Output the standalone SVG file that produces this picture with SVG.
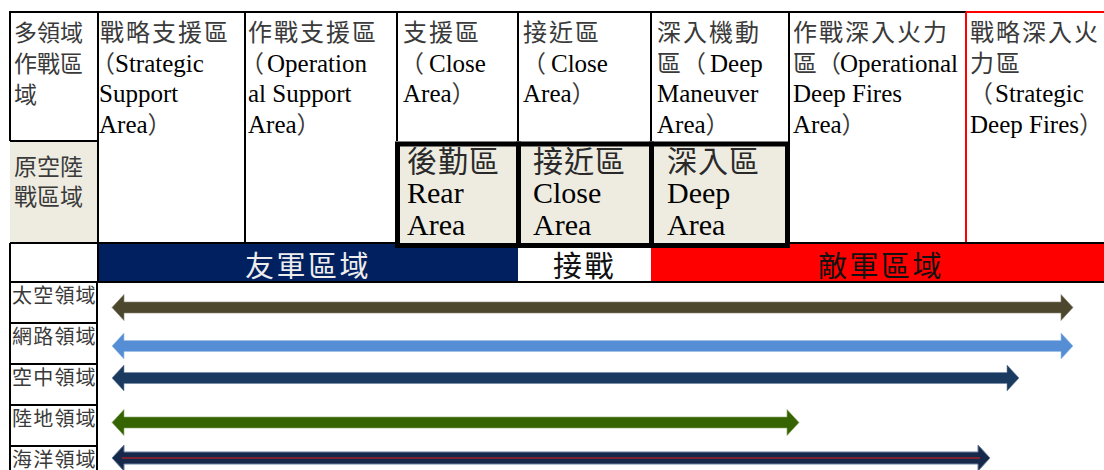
<svg xmlns="http://www.w3.org/2000/svg" width="1104" height="470" viewBox="0 0 1104 470">
<style>
text { font-family: "Liberation Serif", "Noto Sans CJK TC", serif; }
.h { font-size: 24px; fill: #3a3a3a; letter-spacing: 2px; }
.h1 { font-size: 23px; fill: #3a3a3a; }
.en { font-size: 25px; fill: #000; letter-spacing: 0; }
.bx { font-size: 30px; fill: #2a2a2a; letter-spacing: 1px; }
.bxe { font-size: 30px; fill: #000; letter-spacing: 0; }
.band { font-size: 29px; letter-spacing: 2.5px; }
.dom { font-size: 20px; fill: #3a3a3a; letter-spacing: 1.2px; }
.ln { stroke: #000; stroke-width: 2; fill: none; }
.rl { stroke: #f00; stroke-width: 2; fill: none; }
.thick { fill: #EEECE1; stroke: #000; stroke-width: 5; }
</style>

<!-- fills -->
<g id="fills">
  <rect x="10" y="141" width="88" height="102" fill="#EEECE1"/>
  <rect x="98" y="243" width="420" height="39" fill="#002060"/>
  <rect x="651" y="243" width="453" height="39" fill="#FF0000"/>
</g>

<!-- grid -->
<g id="grid">
  <line class="ln" x1="10" y1="12" x2="966" y2="12"/>
  <line class="rl" x1="966" y1="12" x2="1104" y2="12"/>
  <line class="ln" x1="10" y1="11" x2="10" y2="141"/>
  <line class="ln" x1="10" y1="243" x2="10" y2="470"/>
  <line class="ln" x1="98" y1="12" x2="98" y2="282"/>
  <line class="ln" x1="97" y1="282" x2="97" y2="470"/>
  <line class="ln" x1="245" y1="12" x2="245" y2="243"/>
  <line class="ln" x1="397" y1="12" x2="397" y2="141"/>
  <line class="ln" x1="518" y1="12" x2="518" y2="141"/>
  <line class="ln" x1="651" y1="12" x2="651" y2="141"/>
  <line class="ln" x1="789" y1="12" x2="789" y2="243"/>
  <line class="rl" x1="966" y1="12" x2="966" y2="243"/>
  <line class="ln" x1="10" y1="141" x2="98" y2="141"/>
  <line class="ln" x1="10" y1="243" x2="1104" y2="243"/>
  <line class="ln" x1="10" y1="282" x2="1104" y2="282"/>
  <line class="ln" x1="10" y1="323" x2="97" y2="323"/>
  <line class="ln" x1="10" y1="364" x2="97" y2="364"/>
  <line class="ln" x1="10" y1="405" x2="97" y2="405"/>
  <line class="ln" x1="10" y1="446" x2="97" y2="446"/>
</g>

<!-- header cells -->
<g id="cell-mdo">
  <text class="h1" x="14" y="41">多領域</text>
  <text class="h1" x="14" y="72">作戰區</text>
  <text class="h1" x="14" y="103">域</text>
</g>
<g id="cell-strategic-support">
  <text class="h" x="100" y="41">戰略支援區</text>
  <text class="h" y="72"><tspan x="91">（</tspan><tspan class="en" x="115">Strategic</tspan></text>
  <text class="en" x="99" y="102">Support</text>
  <text class="en" x="99" y="133">Area<tspan class="h">）</tspan></text>
</g>
<g id="cell-operational-support">
  <text class="h" x="248" y="41">作戰支援區</text>
  <text class="h" y="72"><tspan x="240">（</tspan><tspan class="en" x="267">Operation</tspan></text>
  <text class="en" x="248" y="102">al Support</text>
  <text class="en" x="248" y="133">Area<tspan class="h">）</tspan></text>
</g>
<g id="cell-close-support">
  <text class="h" x="403" y="41">支援區</text>
  <text class="h" y="72"><tspan x="400">（</tspan><tspan class="en" x="429">Close</tspan></text>
  <text class="en" x="403" y="102">Area<tspan class="h">）</tspan></text>
</g>
<g id="cell-close">
  <text class="h" x="523" y="41">接近區</text>
  <text class="h" y="72"><tspan x="522">（</tspan><tspan class="en" x="551">Close</tspan></text>
  <text class="en" x="523" y="102">Area<tspan class="h">）</tspan></text>
</g>
<g id="cell-deep-maneuver">
  <text class="h" x="657" y="41">深入機動</text>
  <text class="h" y="72"><tspan x="657">區</tspan><tspan x="682">（</tspan><tspan class="en" x="710">Deep</tspan></text>
  <text class="en" x="657" y="102">Maneuver</text>
  <text class="en" x="657" y="133">Area<tspan class="h">）</tspan></text>
</g>
<g id="cell-operational-deep-fires">
  <text class="h" x="793" y="41">作戰深入火力</text>
  <text class="h" y="72"><tspan x="793" style="letter-spacing:0">區</tspan><tspan x="817" style="letter-spacing:0">（</tspan><tspan class="en" x="840">Operational</tspan></text>
  <text class="en" x="793" y="102">Deep Fires</text>
  <text class="en" x="793" y="133">Area<tspan class="h">）</tspan></text>
</g>
<g id="cell-strategic-deep-fires">
  <text class="h" x="970" y="41">戰略深入火</text>
  <text class="h" x="970" y="72">力區</text>
  <text class="h" y="102"><tspan x="969">（</tspan><tspan class="en" x="995">Strategic</tspan></text>
  <text class="en" x="970" y="133">Deep Fires<tspan class="h">）</tspan></text>
</g>

<g id="cell-aln">
  <text class="h1" x="14" y="175">原空陸</text>
  <text class="h1" x="14" y="205">戰區域</text>
</g>

<g id="box-rear">
  <rect class="thick" x="397.5" y="144" width="121" height="101.5"/>
  <text class="bx" x="407" y="172">後勤區</text>
  <text class="bxe" x="407" y="203">Rear</text>
  <text class="bxe" x="407" y="235">Area</text>
</g>
<g id="box-close">
  <rect class="thick" x="518.5" y="144" width="133" height="101.5"/>
  <text class="bx" x="533" y="172">接近區</text>
  <text class="bxe" x="533" y="203">Close</text>
  <text class="bxe" x="533" y="235">Area</text>
</g>
<g id="box-deep">
  <rect class="thick" x="651.5" y="144" width="136" height="101.5"/>
  <text class="bx" x="667" y="172">深入區</text>
  <text class="bxe" x="667" y="203">Deep</text>
  <text class="bxe" x="667" y="235">Area</text>
</g>

<g id="band-friendly"><text class="band" x="245" y="277" fill="#EDEDED">友軍區域</text></g>
<g id="band-contact"><text class="band" x="553" y="277" fill="#111">接戰</text></g>
<g id="band-enemy"><text class="band" x="818" y="277" fill="#111">敵軍區域</text></g>

<g id="label-space"><text class="dom" x="12" y="303">太空領域</text></g>
<g id="label-cyber"><text class="dom" x="12" y="344">網路領域</text></g>
<g id="label-air"><text class="dom" x="12" y="385">空中領域</text></g>
<g id="label-land"><text class="dom" x="12" y="426">陸地領域</text></g>
<g id="label-sea"><text class="dom" x="12" y="467">海洋領域</text></g>

<g id="connectors">
  <polygon fill="#4D472E" stroke="#8a8570" stroke-width="0.6" points="112,307.5 124,294.5 124,302 1061,302 1061,294.5 1073,307.5 1061,320.5 1061,313 124,313 124,320.5"/>
  <polygon fill="#558ED5" stroke="#9dbde6" stroke-width="0.6" points="112,346 124,333 124,340.5 1061,340.5 1061,333 1073,346 1061,359 1061,351.5 124,351.5 124,359"/>
  <polygon fill="#1B3A5F" stroke="#6f86a3" stroke-width="0.6" points="112,378 124,365 124,372.5 1007,372.5 1007,365 1019,378 1007,391 1007,383.5 124,383.5 124,391"/>
  <polygon fill="#366400" stroke="#8aa86a" stroke-width="0.6" points="112,422.5 124,409.5 124,417 787,417 787,409.5 799,422.5 787,435.5 787,428 124,428 124,435.5"/>
  <polygon fill="#17294A" stroke="#6A7F9F" stroke-width="1" points="112,458 124,445 124,452 978,452 978,445 990,458 978,471 978,464 124,464 124,471"/>
  <line x1="122" y1="458" x2="980" y2="458" stroke="#A0202A" stroke-width="1.5"/>
</g>
</svg>
